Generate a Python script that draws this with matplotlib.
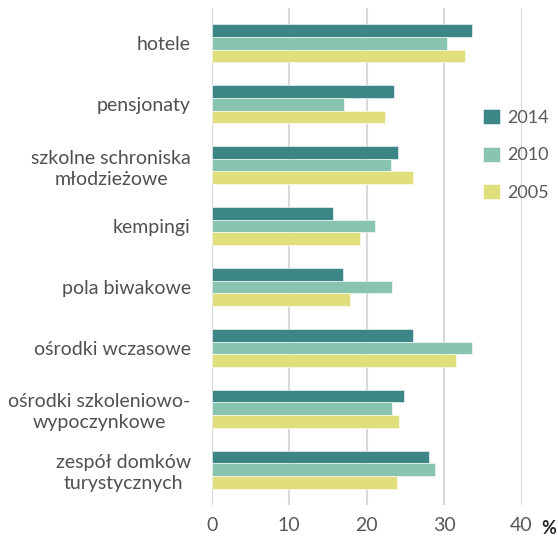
import numpy as np
import matplotlib.pyplot as plt

kategorie = ["hotele", "pensjonaty", "szkolne schroniska\nmłodzieżowe", "kempingi",
             "pola biwakowe", "ośrodki wczasowe", "ośrodki szkoleniowo-\nwypoczynkowe",
             "zespół domków\nturystycznych"]
lata = ["2014", "2010", "2005"]
w2014 = [33.6, 23.5, 24.1, 15.6, 16.9, 26.0, 24.8, 28.1]
w2010 = [30.4, 17.1, 23.1, 21.1, 23.3, 33.6, 23.3, 28.8]
w2005 = [32.7, 22.4, 26.0, 19.1, 17.8, 31.6, 24.2, 23.9]
kolory = ["#3C8785", "#88C4B0", "#E1DE7D"]

plt.rcParams['font.family'] = ['Lato', 'DejaVu Sans']

fig = plt.figure(figsize=(5.58, 5.37), dpi=100)
ax = fig.add_axes([0.3794, 0.0596, 0.5552, 0.9255])

y = np.arange(len(kategorie))
h = 0.208
for i, (wart, kol, rok) in enumerate(zip([w2014, w2010, w2005], kolory, lata)):
    ax.barh(y + (i - 1) * h, wart, height=h, color=kol, label=rok, zorder=3,
            edgecolor='white', linewidth=0.4)

ax.set_xlim(0, 40)
ax.set_ylim(len(kategorie) - 1 + 0.58, -0.58)
ax.set_xticks([0, 10, 20, 30, 40])
ax.set_yticks(y)
ax.set_yticklabels(kategorie, fontsize=14, color='#505050')
for t in ax.get_yticklabels():
    t.set_multialignment('center')
    t.set_linespacing(1.3)
ax.tick_params(axis='y', length=0, pad=15)
ax.tick_params(axis='x', length=0, pad=9, labelsize=14, labelcolor='#595959')
ax.grid(axis='x', color='#D9D9D9', linewidth=1.5, zorder=0)
for s in ax.spines.values():
    s.set_visible(False)

fig.text(549 / 558, 1 - 528 / 537, "%", fontsize=13, ha='center', va='center',
         color='#262626', fontweight='bold')

ax.legend(loc='center left', bbox_to_anchor=(467 / 558, 1 - 155 / 537),
          bbox_transform=fig.transFigure, frameon=False, fontsize=13,
          labelcolor='#595959', handlelength=0.9, handleheight=0.9,
          handletextpad=0.45, labelspacing=1.15)

fig.savefig("out.png", dpi=100)
